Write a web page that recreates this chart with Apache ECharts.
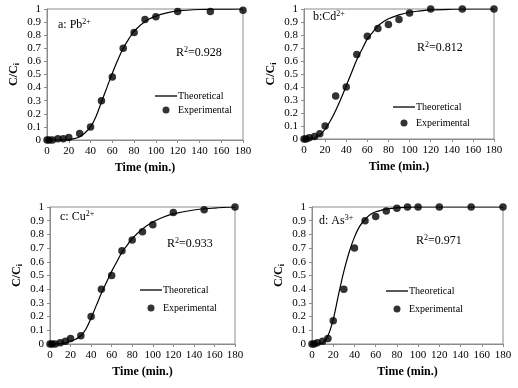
<!DOCTYPE html>
<html>
<head>
<meta charset="utf-8">
<script src="https://cdn.jsdelivr.net/npm/echarts@6/dist/echarts.min.js"></script>
<style>
html,body{margin:0;padding:0;background:#fff;}
#chart{width:518px;height:388px;}
</style>
</head>
<body>
<div id="chart"></div>
<script>
// breakthrough curves, C/Ci vs time
var expTime = [0, 2, 5, 10, 15, 20, 30, 40, 50, 60, 70, 80, 90, 100, 120, 150, 180];
var expPb = [0, 0, 0, 0.01, 0.01, 0.02, 0.05, 0.1, 0.3, 0.48, 0.7, 0.82, 0.92, 0.94, 0.98, 0.98, 0.99];
var expCd = [0, 0, 0.01, 0.02, 0.04, 0.1, 0.33, 0.4, 0.65, 0.79, 0.85, 0.88, 0.92, 0.97, 1.0, 1.0, 1.0];
var expCu = [0, 0, 0, 0.01, 0.02, 0.04, 0.06, 0.2, 0.4, 0.5, 0.68, 0.76, 0.82, 0.87, 0.96, 0.98, 1.0];
var expAs = [0, 0, 0.01, 0.02, 0.04, 0.17, 0.4, 0.7, 0.9, 0.93, 0.97, 0.99, 1.0, 1.0, 1.0, 1.0, 1.0];

var theoTime = [0, 5, 10, 15, 20, 25, 30, 35, 40, 45, 50, 55, 60, 65, 70, 75, 80, 90, 100, 110, 120, 140, 160, 180];
var theoPb = [0, 0, 0, 0.001, 0.003, 0.01, 0.025, 0.055, 0.1, 0.18, 0.29, 0.4, 0.51, 0.61, 0.7, 0.77, 0.83, 0.905, 0.945, 0.97, 0.985, 0.996, 0.999, 1];
var theoCd = [0, 0.003, 0.01, 0.03, 0.075, 0.14, 0.22, 0.31, 0.41, 0.51, 0.61, 0.69, 0.77, 0.82, 0.87, 0.9, 0.925, 0.955, 0.975, 0.985, 0.993, 0.998, 1, 1];
var theoCu = [0, 0, 0.002, 0.008, 0.02, 0.035, 0.06, 0.11, 0.19, 0.28, 0.37, 0.45, 0.53, 0.6, 0.67, 0.72, 0.77, 0.84, 0.89, 0.925, 0.95, 0.978, 0.992, 1];
var theoAs = [0, 0.001, 0.008, 0.06, 0.18, 0.36, 0.53, 0.67, 0.78, 0.86, 0.91, 0.945, 0.965, 0.975, 0.985, 0.99, 0.995, 0.998, 1, 1, 1, 1, 1, 1];

var panelLabels = [['a: Pb', '2+'], ['b:Cd', '2+'], ['c: Cu', '2+'], ['d: As', '3+']];
var r2Labels = ['0.928', '0.812', '0.933', '0.971'];

var FONT = '"Liberation Serif", "Times New Roman", serif';
var AXIS_COLOR = '#8c8c8c';

var grids = [
	{left: 47, top: 9, width: 196, height: 131},
	{left: 304, top: 9, width: 190, height: 130},
	{left: 50, top: 207, width: 185, height: 137},
	{left: 312, top: 207, width: 191, height: 137}
];
var panelPos = [[58, 25, 176, 53], [313, 17, 417, 48], [60, 217, 167, 244], [319, 221, 416, 241]];
var legendPos = [[155, 91, 4], [393, 102, 6], [140, 285, 8], [386, 286, 8]];

function pairs(xs, ys){
	var out = [];
	for(var i=0;i<xs.length;i++){
		out.push([xs[i], ys[i]]);
	}
	return out;
}

var theoList = [theoPb, theoCd, theoCu, theoAs];
var expList = [expPb, expCd, expCu, expAs];

var xAxes = [], yAxes = [], series = [], legends = [], graphics = [];
for(var k=0;k<4;k++){
	xAxes.push({
		gridIndex: k,
		type: 'value',
		min: 0, max: 180, interval: 20,
		name: 'Time (min.)',
		nameLocation: 'middle',
		nameGap: 22,
		nameTextStyle: {fontFamily: FONT, fontWeight: 'bold', fontSize: 12, color: '#000'},
		axisLine: {show: true, lineStyle: {color: AXIS_COLOR, width: 1}},
		axisTick: {show: true, length: 3, lineStyle: {color: AXIS_COLOR}},
		axisLabel: {fontFamily: FONT, fontSize: 11, color: '#000', margin: 6},
		splitLine: {show: false}
	});
	yAxes.push({
		gridIndex: k,
		type: 'value',
		min: 0, max: 1, interval: 0.1,
		name: '{b|C/C}{s|i}',
		nameLocation: 'middle',
		nameRotate: 90,
		nameGap: 26,
		nameTextStyle: {
			rich: {
				b: {fontFamily: FONT, fontWeight: 'bold', fontSize: 12, color: '#000'},
				s: {fontFamily: FONT, fontWeight: 'bold', fontSize: 8, color: '#000', verticalAlign: 'bottom', padding: [6, 0, 0, 0]}
			}
		},
		axisLine: {show: true, lineStyle: {color: AXIS_COLOR, width: 1}},
		axisTick: {show: true, length: 3, lineStyle: {color: AXIS_COLOR}},
		axisLabel: {fontFamily: FONT, fontSize: 11, color: '#000', margin: 6},
		splitLine: {show: false}
	});
	series.push({
		name: 'Theoretical',
		type: 'line',
		xAxisIndex: k, yAxisIndex: k,
		data: pairs(theoTime, theoList[k]),
		smooth: 0.35,
		showSymbol: false,
		color: '#000',
		lineStyle: {color: '#000', width: 1.2},
		z: 2
	});
	series.push({
		name: 'Experimental',
		type: 'scatter',
		xAxisIndex: k, yAxisIndex: k,
		data: pairs(expTime, expList[k]),
		symbol: 'circle',
		symbolSize: 7.5,
		color: '#000',
		itemStyle: {color: '#000'},
		z: 3
	});
	legends.push({
		left: legendPos[k][0],
		top: legendPos[k][1],
		orient: 'vertical',
		padding: 0,
		itemWidth: 22,
		itemHeight: 7,
		itemGap: legendPos[k][2],
		selectedMode: false,
		textStyle: {fontFamily: FONT, fontSize: 10, color: '#000', padding: [0, 0, 0, -4]},
		data: [
			{name: 'Theoretical', icon: 'path://M0,0H22V1.3H0Z'},
			{name: 'Experimental', icon: 'circle'}
		]
	});
	graphics.push({
		type: 'text',
		left: panelPos[k][0],
		top: panelPos[k][1] - 7,
		style: {
			text: '{n|' + panelLabels[k][0] + '}{p|' + panelLabels[k][1] + '}',
			rich: {
				n: {fontFamily: FONT, fontSize: 12, fill: '#000'},
				p: {fontFamily: FONT, fontSize: 8, fill: '#000', verticalAlign: 'top', padding: [0, 0, 6, 0]}
			}
		}
	});
	graphics.push({
		type: 'text',
		left: panelPos[k][2],
		top: panelPos[k][3] - 7,
		style: {
			text: '{n|R}{p|2}{n|=' + r2Labels[k] + '}',
			rich: {
				n: {fontFamily: FONT, fontSize: 12, fill: '#000'},
				p: {fontFamily: FONT, fontSize: 8, fill: '#000', verticalAlign: 'top', padding: [0, 0, 6, 0]}
			}
		}
	});
}

for(var g=0;g<grids.length;g++){
	grids[g].show = true;
	grids[g].borderColor = AXIS_COLOR;
	grids[g].borderWidth = 1;
	grids[g].containLabel = false;
}

var myChart = echarts.init(document.getElementById('chart'));
var option = {
	backgroundColor: '#fff',
	animation: false,
	grid: grids,
	xAxis: xAxes,
	yAxis: yAxes,
	legend: legends,
	graphic: graphics,
	series: series
};
myChart.setOption(option);
</script>
</body>
</html>
